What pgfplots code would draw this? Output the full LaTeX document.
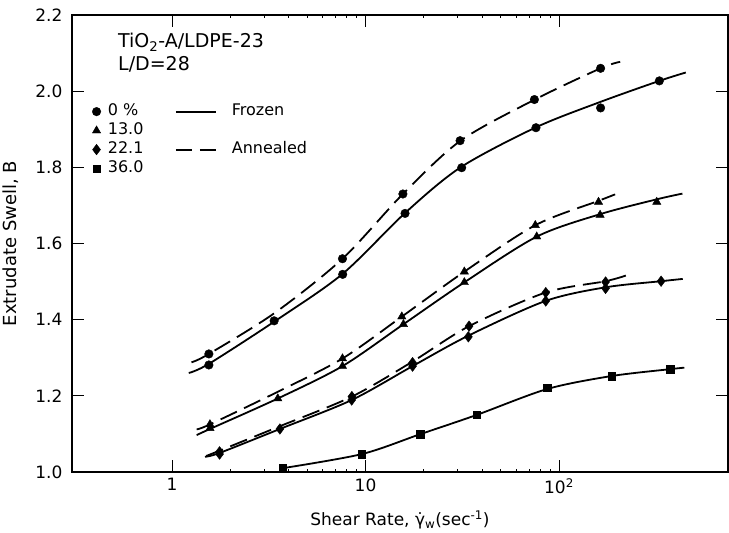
\documentclass[border=0pt]{standalone}
\usepackage{fontspec}
\setmainfont{DejaVu Sans}
\usepackage{pgfplots}
\pgfplotsset{compat=1.18}
\pgfplotsset{
  frzline/.style={black, line width=1.8pt, smooth, tension=0.5, no markers},
  annline/.style={black, line width=1.8pt, smooth, tension=0.5, no markers, dash pattern=on 18pt off 8pt},
}

\begin{document}
\begin{tikzpicture}
\path[use as bounding box] (0pt,0pt) rectangle (729pt,533pt);
\begin{axis}[
  at={(72pt,61pt)}, anchor=south west,
  xmode=log, xmin=0.304, xmax=747, ymin=1.0, ymax=2.2,
  width=656pt, height=457pt, scale only axis,
  axis line style={line width=1.2pt},
  xtick={1,10,100}, xticklabels={1,10,10\textsuperscript{2}},
  minor xtick={},
  ytick={1.0,1.2,1.4,1.6,1.8,2.0,2.2},
  yticklabel style={xshift=-6pt, /pgf/number format/fixed, /pgf/number format/fixed zerofill, /pgf/number format/precision=1},
  /pgf/number format/assume math mode=true,
  tick align=inside, major tick length=12pt,
  tick style={line width=1pt, black},
  tick label style={font=\fontsize{17}{19}\selectfont},
  xticklabel style={yshift=-3pt},
  xlabel={Shear Rate, γ̇\textsubscript{w}(sec\textsuperscript{-1})},
  ylabel={Extrudate Swell, B},
  xlabel style={font=\fontsize{17}{19}\selectfont, at={(axis description cs:0.5,0)}, anchor=center, yshift=-48pt},
  ylabel style={font=\fontsize{18}{20}\selectfont, at={(axis description cs:0,0.5)}, anchor=center, yshift=61pt},
  legend style={at={(0.026,0.812)}, anchor=north west, draw=none, fill=none,
    font=\fontsize{16}{17}\selectfont, row sep=2pt, column sep=5pt,
    nodes={text height=10pt, text depth=3pt, inner sep=2pt}},
  legend cell align=left,
]
\addplot[black, only marks, mark=*, mark size=4.3pt] coordinates {
 (1.55,1.281) (3.37,1.397) (7.62,1.519) (16.0,1.679) (31.4,1.799) (76.0,1.904) (164,1.956) (330,2.027)};
\addlegendentry{0 \%}
\addplot[black, only marks, mark=triangle*, mark size=4.8pt] coordinates {
 (1.57,1.115) (3.52,1.193) (7.6,1.278) (15.7,1.388) (32.4,1.498) (76.7,1.618) (163,1.675) (320,1.709)};
\addlegendentry{13.0}
\addplot[black, only marks, mark=diamond*, mark size=5.3pt] coordinates {
 (1.76,1.047) (3.61,1.113) (8.48,1.189) (17.5,1.278) (34.0,1.355) (85.4,1.449) (174,1.482) (337,1.501)};
\addlegendentry{22.1}
\addplot[black, only marks, mark=square*, mark size=3.8pt] coordinates {
 (3.73,1.010) (9.56,1.047) (19.1,1.099) (37.6,1.150) (87.0,1.221) (187,1.252) (375,1.270)};
\addlegendentry{36.0}

\addplot[black, only marks, mark=*, mark size=4.3pt, forget plot] coordinates {
 (1.55,1.310) (7.6,1.560) (15.6,1.730) (30.8,1.870) (74.6,1.978) (164,2.060)};
\addplot[black, only marks, mark=triangle*, mark size=4.8pt, forget plot] coordinates {
 (1.57,1.125) (7.6,1.298) (15.4,1.408) (32.4,1.526) (75.4,1.648) (160,1.709)};
\addplot[black, only marks, mark=diamond*, mark size=5.3pt, forget plot] coordinates {
 (1.76,1.053) (8.5,1.198) (17.5,1.287) (34.3,1.383) (85.4,1.471) (174,1.499)};

\addplot[frzline, forget plot] coordinates {
 (1.22,1.260) (1.55,1.284) (3.4,1.396) (7.6,1.520) (16,1.680) (31,1.800) (76,1.905) (164,1.972) (330,2.027) (452,2.049)};
\addplot[frzline, forget plot] coordinates {
 (1.34,1.097) (1.57,1.113) (3.52,1.193) (7.6,1.278) (15.7,1.388) (32.4,1.498) (76.7,1.618) (163,1.677) (320,1.716) (434,1.731)};
\addplot[frzline, forget plot] coordinates {
 (1.48,1.040) (1.76,1.050) (3.61,1.113) (8.48,1.189) (17.5,1.278) (34,1.358) (85,1.449) (174,1.485) (337,1.501) (436,1.507)};
\addplot[frzline, forget plot] coordinates {
 (3.73,1.010) (9.56,1.047) (19.1,1.099) (37.6,1.150) (87,1.218) (187,1.252) (375,1.270) (444,1.274)};

\addplot[annline, forget plot] coordinates {
 (1.26,1.288) (1.55,1.310) (3.4,1.418) (7.6,1.560) (15.6,1.730) (31,1.870) (75,1.978) (164,2.060) (207,2.077)};
\addplot[annline, forget plot] coordinates {
 (1.34,1.112) (1.57,1.125) (3.5,1.210) (7.6,1.298) (15.4,1.408) (32.4,1.526) (75.4,1.648) (160,1.712) (195,1.729)};
\addplot[annline, forget plot] coordinates {
 (1.5,1.042) (1.76,1.056) (3.6,1.120) (8.5,1.198) (17.5,1.290) (34.3,1.383) (85,1.471) (174,1.501) (225,1.517)};

\node[anchor=west, font=\fontsize{19}{21}\selectfont] at (rel axis cs:0.065,0.941) {TiO\textsubscript{2}-A/LDPE-23};
\node[anchor=west, font=\fontsize{19}{21}\selectfont] at (rel axis cs:0.065,0.893) {L/D=28};
\end{axis}

\begin{axis}[
  at={(72pt,61pt)}, anchor=south west,
  xmode=log, xmin=0.304, xmax=747, ymin=1.0, ymax=2.2,
  width=656pt, height=457pt, scale only axis,
  hide axis,
  legend style={at={(0.152,0.812)}, anchor=north west, draw=none, fill=none,
    font=\fontsize{16}{17}\selectfont, row sep=2pt,
    nodes={text height=10pt, text depth=3pt, inner sep=2pt}},
  legend cell align=left,
]
\addlegendimage{legend image code/.code={\path[draw=none, fill=none] (0pt,0pt) rectangle (54pt,0pt); \draw[black, solid, line width=1.8pt] (0pt,0pt) -- (40pt,0pt);}}
\addlegendentry{Frozen}
\addlegendimage{empty legend}
\addlegendentry{}
\addlegendimage{legend image code/.code={\path[draw=none, fill=none] (0pt,0pt) rectangle (54pt,0pt); \draw[black, solid, line width=1.8pt] (0pt,0pt) -- (16pt,0pt) (24pt,0pt) -- (40pt,0pt);}}
\addlegendentry{Annealed}
\end{axis}
\end{tikzpicture}
\end{document}
